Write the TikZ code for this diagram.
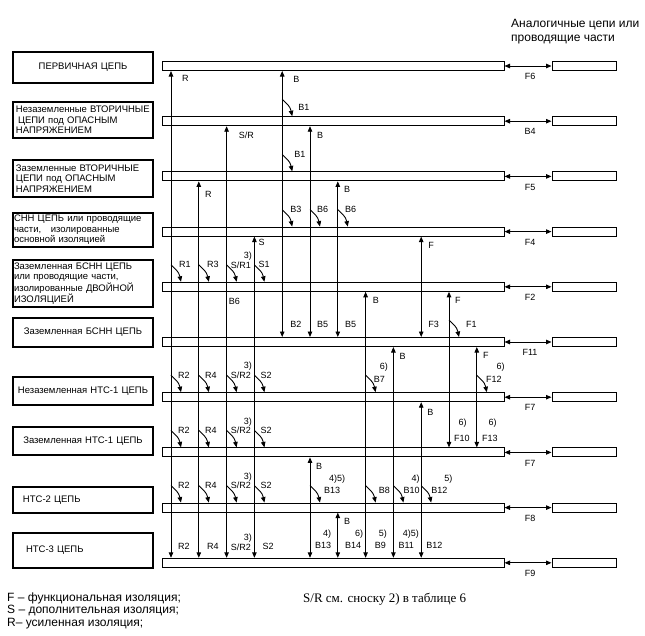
\documentclass[tikz,border=0pt]{standalone}
\usepackage{fontspec}
\setmainfont{Liberation Serif}
\setsansfont{Liberation Sans}
\usetikzlibrary{arrows.meta,positioning,calc}

\tikzset{
  bus/.style={draw, line width=1pt, minimum width=342pt, minimum height=9pt, inner sep=0pt},
  peer/.style={bus, minimum width=64pt},
  box/.style={draw, line width=1.1pt, minimum width=140pt, text width=134pt, inner xsep=3pt, inner ysep=0pt, align=left, font=\sffamily\fontsize{9.5}{10.5}\selectfont},
  lbl/.style={font=\sffamily\fontsize{9}{9}\selectfont, inner sep=0pt},
  link/.style={line width=0.9pt, {Triangle[length=5.5pt,width=4.5pt]}-{Triangle[length=5.5pt,width=4.5pt]}},
  hook/.style={line width=0.9pt, rounded corners=3pt, -{Triangle[length=5.5pt,width=4.5pt]}},
}
\newcommand{\tickarrow}[5][7,0]{%
  \draw[hook] ($(#2 |- #3.north)+(0,-17)$) -- ++(8,8) -- ($(#2 |- #3.north)+(10,0)$);
  \node[lbl, anchor=west] (#4) at ($(#2 |- #3.north)+(0,-17)+(#1)$) {#5};}
\newcommand{\fnlabel}[4]{\node[lbl, anchor=base east] (#1) at ($(#2.base east)+(#3)$) {#4};}

\begin{document}
\begin{tikzpicture}[x=1pt, y=-1pt]
\useasboundingbox (0,0) rectangle (645,635);

\node[bus] (b1) at (333,66) {};
\node[bus, below=45.2pt of b1] (b2) {};
\node[bus, below=45.2pt of b2] (b3) {};
\node[bus, below=45.2pt of b3] (b4) {};
\node[bus, below=45.2pt of b4] (b5) {};
\node[bus, below=45.2pt of b5] (b6) {};
\node[bus, below=45.2pt of b6] (b7) {};
\node[bus, below=45.2pt of b7] (b8) {};
\node[bus, below=45.2pt of b8] (b9) {};
\node[bus, below=45.2pt of b9] (b10) {};

\node[peer, right=47pt of b1] (s1) {};
\node[peer, right=47pt of b2] (s2) {};
\node[peer, right=47pt of b3] (s3) {};
\node[peer, right=47pt of b4] (s4) {};
\node[peer, right=47pt of b5] (s5) {};
\node[peer, right=47pt of b6] (s6) {};
\node[peer, right=47pt of b7] (s7) {};
\node[peer, right=47pt of b8] (s8) {};
\node[peer, right=47pt of b9] (s9) {};
\node[peer, right=47pt of b10] (s10) {};

\node[box, align=center, minimum height=31pt] (n1) at (83,67.5) {ПЕРВИЧНАЯ ЦЕПЬ};
\node[box, minimum height=36pt] (n2) at (83,120) {Незаземленные ВТОРИЧНЫЕ\\\hspace*{2pt}ЦЕПИ под ОПАСНЫМ\\НАПРЯЖЕНИЕМ};
\node[box, minimum height=37pt] (n3) at (83,178.5) {Заземленные ВТОРИЧНЫЕ\\ЦЕПИ под ОПАСНЫМ\\НАПРЯЖЕНИЕМ};
\node[box, inner xsep=1pt, text width=138pt, minimum height=34pt] (n4) at (83,230) {СНН ЦЕПЬ или проводящие\\части,\ \ \ изолированные\\основной изоляцией};
\node[box, inner xsep=1pt, text width=138pt, minimum height=47pt] (n5) at (83,283.5) {Заземленная БСНН ЦЕПЬ\\или проводящие части,\\изолированные ДВОЙНОЙ\\ИЗОЛЯЦИЕЙ};
\node[box, align=center, minimum height=29pt] (n6) at (83,332.5) {Заземленная БСНН ЦЕПЬ};
\node[box, align=center, minimum height=28pt] (n7) at (83,391) {Незаземленная НТС-1 ЦЕПЬ};
\node[box, align=center, minimum height=28pt] (n8) at (83,441) {Заземленная НТС-1 ЦЕПЬ};
\node[box, minimum height=26pt] (n9) at (83,500) {\hspace*{7pt}НТС-2 ЦЕПЬ};
\node[box, minimum height=35pt] (n10) at (83,550.5) {\hspace*{10pt}НТС-3 ЦЕПЬ};

\node[anchor=north west, align=left, inner sep=0pt, font=\sffamily\fontsize{12}{14}\selectfont] (head) at (511,19.5) {Аналогичные цепи или\\проводящие части};

\draw[link] (b1.east) -- node[lbl, below=7pt, xshift=2pt] (f1) {F6} (s1.west);
\draw[link] (b2.east) -- node[lbl, below=7pt, xshift=2pt] (f2) {B4} (s2.west);
\draw[link] (b3.east) -- node[lbl, below=7pt, xshift=2pt] (f3) {F5} (s3.west);
\draw[link] (b4.east) -- node[lbl, below=7pt, xshift=2pt] (f4) {F4} (s4.west);
\draw[link] (b5.east) -- node[lbl, below=7pt, xshift=2pt] (f5) {F2} (s5.west);
\draw[link] (b6.east) -- node[lbl, below=7pt, xshift=2pt] (f6) {F11} (s6.west);
\draw[link] (b7.east) -- node[lbl, below=7pt, xshift=2pt] (f7) {F7} (s7.west);
\draw[link] (b8.east) -- node[lbl, below=7pt, xshift=2pt] (f8) {F7} (s8.west);
\draw[link] (b9.east) -- node[lbl, below=7pt, xshift=2pt] (f9) {F8} (s9.west);
\draw[link] (b10.east) -- node[lbl, below=7pt, xshift=2pt] (f10) {F9} (s10.west);

\coordinate (c1) at (171,0);
\coordinate[right=27.8pt of c1] (c2);
\coordinate[right=27.8pt of c2] (c3);
\coordinate[right=27.8pt of c3] (c4);
\coordinate[right=27.8pt of c4] (c5);
\coordinate[right=27.8pt of c5] (c6);
\coordinate[right=27.8pt of c6] (c7);
\coordinate[right=27.8pt of c7] (c8);
\coordinate[right=27.8pt of c8] (c9);
\coordinate[right=27.8pt of c9] (c10);
\coordinate[right=27.8pt of c10] (c11);
\coordinate[right=27.8pt of c11] (c12);

\draw[link] (c1 |- b1.south) -- (c1 |- b10.north);
\draw[link] (c2 |- b3.south) -- (c2 |- b10.north);
\draw[link] (c3 |- b2.south) -- (c3 |- b10.north);
\draw[link] (c4 |- b4.south) -- (c4 |- b10.north);
\draw[link] (c5 |- b1.south) -- (c5 |- b6.north);
\draw[link] (c6 |- b2.south) -- (c6 |- b6.north);
\draw[link] (c7 |- b3.south) -- (c7 |- b6.north);
\draw[link] (c10 |- b4.south) -- (c10 |- b6.north);
\draw[link] (c8 |- b5.south) -- (c8 |- b10.north);
\draw[link] (c11 |- b5.south) -- (c11 |- b8.north);
\draw[link] (c9 |- b6.south) -- (c9 |- b10.north);
\draw[link] (c12 |- b6.south) -- (c12 |- b8.north);
\draw[link] (c10 |- b7.south) -- (c10 |- b10.north);
\draw[link] (c6 |- b8.south) -- (c6 |- b10.north);
\draw[link] (c7 |- b9.south) -- (c7 |- b10.north);

\node[lbl, anchor=west] (u1) at ($(c1 |- b1.south)+(11,7)$) {R};
\node[lbl, anchor=west] (u2) at ($(c5 |- b1.south)+(11,8)$) {B};
\node[lbl, anchor=west] (u3) at ($(c3 |- b2.south)+(12,9)$) {S/R};
\node[lbl, anchor=west] (u4) at ($(c6 |- b2.south)+(7,9)$) {B};
\node[lbl, anchor=west] (u5) at ($(c2 |- b3.south)+(6,13)$) {R};
\node[lbl, anchor=west] (u6) at ($(c7 |- b3.south)+(6,8)$) {B};
\node[lbl, anchor=west] (u7) at ($(c4 |- b4.south)+(4,6)$) {S};
\node[lbl, anchor=west] (u8) at ($(c10 |- b4.south)+(7,9)$) {F};
\node[lbl, anchor=west] (u9) at ($(c8 |- b5.south)+(7,9)$) {B};
\node[lbl, anchor=west] (u10) at ($(c11 |- b5.south)+(6,9)$) {F};
\node[lbl, anchor=west] (u11) at ($(c9 |- b6.south)+(6,9)$) {B};
\node[lbl, anchor=west] (u12) at ($(c12 |- b6.south)+(6,8)$) {F};
\node[lbl, anchor=west] (u13) at ($(c10 |- b7.south)+(6,10)$) {B};
\node[lbl, anchor=west] (u14) at ($(c6 |- b8.south)+(6,9)$) {B};
\node[lbl, anchor=west] (u15) at ($(c7 |- b9.south)+(6,9)$) {B};
\node[lbl, anchor=west] (x1) at ($(c3 |- b5.south)+(2,10)$) {B6};

\node[lbl, anchor=west] (d5) at ($(c5 |- b6.north)+(8,-13)$) {B2};
\node[lbl, anchor=west] (d6) at ($(c6 |- b6.north)+(7,-13)$) {B5};
\node[lbl, anchor=west] (d7) at ($(c7 |- b6.north)+(7,-13)$) {B5};
\node[lbl, anchor=west] (d8) at ($(c10 |- b6.north)+(7,-13)$) {F3};
\node[lbl, anchor=west] (d9) at ($(c11 |- b8.north)+(5,-9)$) {F10};
\node[lbl, anchor=west] (d10) at ($(c12 |- b8.north)+(5,-9)$) {F13};
\node[lbl, anchor=west] (d1) at ($(c1 |- b10.north)+(7,-11)$) {R2};
\node[lbl, anchor=west] (d2) at ($(c2 |- b10.north)+(8,-11)$) {R4};
\node[lbl, anchor=west] (d3) at ($(c3 |- b10.north)+(4,-11)$) {S/R2};
\node[lbl, anchor=west] (d4) at ($(c4 |- b10.north)+(8,-11)$) {S2};
\node[lbl, anchor=west] (d11) at ($(c6 |- b10.north)+(5,-12)$) {B13};
\node[lbl, anchor=west] (d12) at ($(c7 |- b10.north)+(7,-12)$) {B14};
\node[lbl, anchor=west] (d13) at ($(c8 |- b10.north)+(9,-12)$) {B9};
\node[lbl, anchor=west] (d14) at ($(c9 |- b10.north)+(5,-12)$) {B11};
\node[lbl, anchor=west] (d15) at ($(c10 |- b10.north)+(5,-12)$) {B12};
\fnlabel{m9}{d9}{-3,-16}{6)}
\fnlabel{m10}{d10}{-1,-16}{6)}
\fnlabel{m3}{d3}{1,-10}{3)}
\fnlabel{m11}{d11}{0,-12}{4)}
\fnlabel{m12}{d12}{2,-12}{6)}
\fnlabel{m13}{d13}{1,-12}{5)}
\fnlabel{m14}{d14}{5,-12}{4)5)}

\tickarrow[16,8]{c5}{b2}{t21}{B1}
\tickarrow[12,0]{c5}{b3}{t31}{B1}
\tickarrow[8,0]{c5}{b4}{t41}{B3}
\tickarrow{c6}{b4}{t42}{B6}
\tickarrow{c7}{b4}{t43}{B6}

\tickarrow[8,0]{c1}{b5}{t51}{R1}
\tickarrow[8,0]{c2}{b5}{t52}{R3}
\tickarrow[4,0]{c3}{b5}{t53}{S/R1}
\tickarrow[4,0]{c4}{b5}{t54}{S1}
\fnlabel{n53}{t53}{1,-9.5}{3)}

\tickarrow[17,4]{c11}{b6}{t61}{F1}

\tickarrow{c1}{b7}{t71}{R2}
\tickarrow[6,0]{c2}{b7}{t72}{R4}
\tickarrow[4,0]{c3}{b7}{t73}{S/R2}
\tickarrow[6,0]{c4}{b7}{t74}{S2}
\tickarrow[8,4]{c8}{b7}{t75}{B7}
\tickarrow[9,4]{c12}{b7}{t76}{F12}
\fnlabel{n73}{t73}{1,-9.5}{3)}
\fnlabel{n75}{t75}{3,-13}{6)}
\fnlabel{n76}{t76}{3,-13}{6)}

\tickarrow{c1}{b8}{t81}{R2}
\tickarrow[6,0]{c2}{b8}{t82}{R4}
\tickarrow[4,0]{c3}{b8}{t83}{S/R2}
\tickarrow[6,0]{c4}{b8}{t84}{S2}
\fnlabel{n83}{t83}{1,-9.5}{3)}

\tickarrow{c1}{b9}{t91}{R2}
\tickarrow[6,0]{c2}{b9}{t92}{R4}
\tickarrow[4,0]{c3}{b9}{t93}{S/R2}
\tickarrow[6,0]{c4}{b9}{t94}{S2}
\tickarrow[14,5]{c6}{b9}{t95}{B13}
\tickarrow[13,5]{c8}{b9}{t96}{B8}
\tickarrow[10,5]{c9}{b9}{t97}{B10}
\tickarrow[10,5]{c10}{b9}{t98}{B12}
\fnlabel{n93}{t93}{1,-9.5}{3)}
\fnlabel{n95}{t95}{5,-12}{4)5)}
\fnlabel{n97}{t97}{0,-12}{4)}
\fnlabel{n98}{t98}{5,-12}{5)}

\node[anchor=north west, align=left, inner sep=0pt, font=\sffamily\fontsize{12}{12.5}\selectfont] (legend) at (7,592.5) {F – функциональная изоляция;\\S – дополнительная изоляция;\\R– усиленная изоляция;};
\node[anchor=west, inner sep=0pt, font=\fontsize{13}{15}\selectfont] (note) at (303,599) {S/R см. сноску 2) в таблице 6};
\end{tikzpicture}
\end{document}
